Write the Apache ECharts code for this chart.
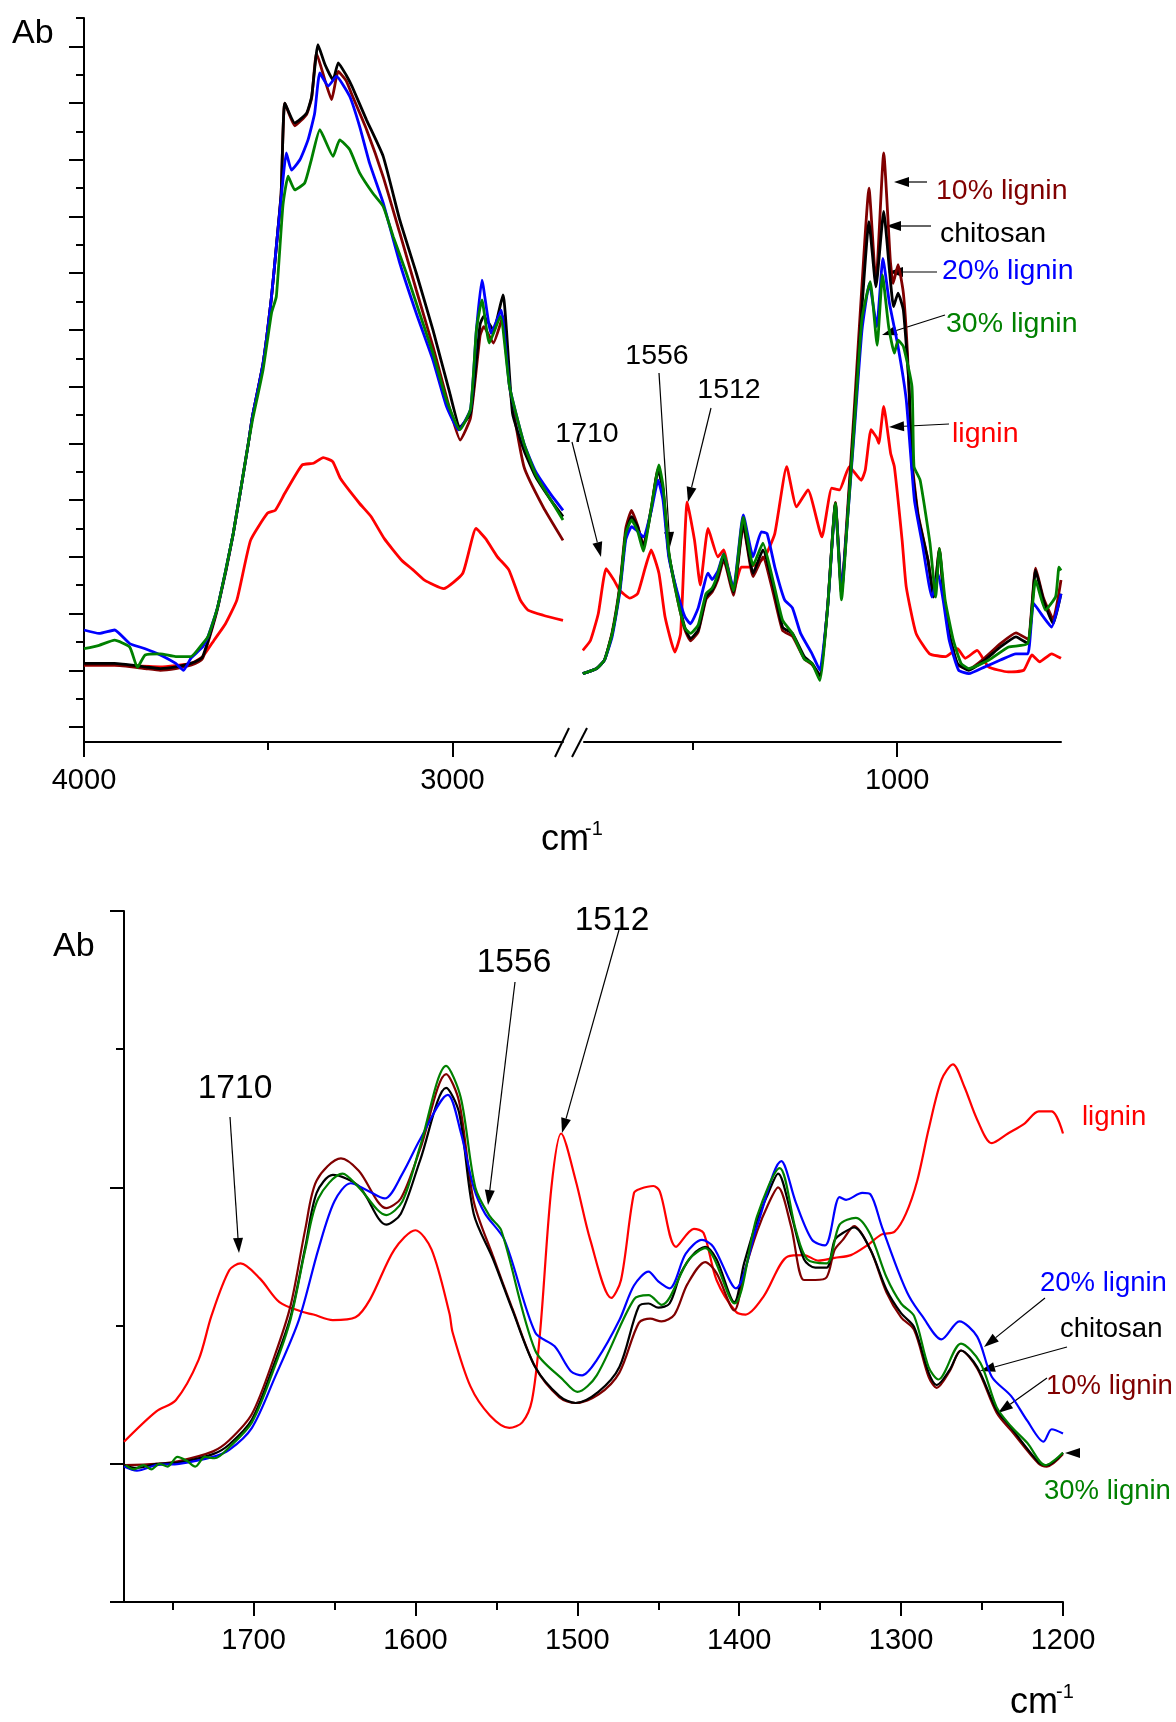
<!DOCTYPE html>
<html>
<head>
<meta charset="utf-8">
<script src="https://cdn.jsdelivr.net/npm/echarts@6/dist/echarts.min.js"></script>
<style>
  html, body { margin: 0; padding: 0; background: #fff; }
  #chart { width: 1176px; height: 1722px; }
</style>
</head>
<body>
<div id="chart"></div>
<script>
// ---- top panel, 4000-2700 cm-1 segment ([wavenumber, absorbance in tick units]) ----
var chitosanHigh = [[4000,1.12],[3917,1.12],[3834,1.06],[3793,1.03],[3751,1.06],[3710,1.12],[3689,1.18],[3678,1.24],[3663,1.53],[3637,2.12],[3595,3.41],[3554,5.0],[3543,5.47],[3514,6.41],[3491,7.59],[3478,8.47],[3465,9.4],[3455,11.0],[3428,10.65],[3396,10.82],[3382,11.12],[3365,12.03],[3346,11.68],[3324,11.41],[3310,11.71],[3289,11.5],[3273,11.3],[3233,10.7],[3188,10.06],[3143,8.94],[3098,8.0],[3053,7.0],[3007,5.88],[2980,5.29],[2951,5.53],[2925,7.1],[2915,7.24],[2889,7.0],[2863,7.62],[2837,5.53],[2806,4.88],[2774,4.41],[2733,4.0],[2700,3.71]];
var lig10High = [[4000,1.09],[3917,1.09],[3834,1.03],[3793,1.0],[3751,1.03],[3710,1.09],[3689,1.15],[3678,1.21],[3663,1.5],[3637,2.1],[3595,3.4],[3554,5.0],[3543,5.47],[3514,6.41],[3491,7.59],[3478,8.47],[3465,9.4],[3455,11.0],[3428,10.6],[3396,10.8],[3382,11.1],[3369,11.88],[3346,11.4],[3328,11.06],[3310,11.56],[3289,11.4],[3273,11.15],[3233,10.53],[3188,9.7],[3143,8.71],[3098,7.7],[3053,6.71],[3007,5.6],[2979,5.06],[2951,5.45],[2925,6.9],[2915,7.06],[2889,6.77],[2863,7.24],[2845,6.0],[2806,4.59],[2754,3.88],[2700,3.29]];
var lig20High = [[4000,1.71],[3959,1.65],[3917,1.71],[3876,1.47],[3834,1.38],[3793,1.27],[3751,1.12],[3730,1.0],[3710,1.21],[3678,1.41],[3663,1.6],[3637,2.12],[3595,3.41],[3554,5.0],[3543,5.47],[3514,6.41],[3491,7.59],[3478,8.47],[3460,9.65],[3451,10.12],[3437,9.82],[3414,10.0],[3392,10.35],[3374,10.82],[3360,11.53],[3337,11.3],[3315,11.47],[3279,11.12],[3252,10.59],[3225,9.94],[3188,9.24],[3143,8.18],[3098,7.29],[3053,6.47],[3016,5.65],[2983,5.24],[2951,5.6],[2935,7.0],[2920,7.88],[2895,6.94],[2868,7.35],[2845,6.0],[2806,5.0],[2774,4.5],[2733,4.1],[2700,3.82]];
var lig30High = [[4000,1.38],[3959,1.44],[3917,1.53],[3876,1.41],[3855,1.05],[3834,1.27],[3793,1.29],[3751,1.24],[3710,1.24],[3678,1.47],[3663,1.6],[3637,2.12],[3595,3.41],[3554,5.0],[3543,5.4],[3514,6.3],[3491,7.3],[3478,7.59],[3460,9.2],[3446,9.71],[3428,9.47],[3401,9.59],[3383,10.0],[3360,10.53],[3324,10.06],[3306,10.35],[3279,10.18],[3252,9.77],[3216,9.41],[3188,9.18],[3161,8.65],[3125,8.0],[3089,7.29],[3053,6.59],[3016,5.76],[2980,5.24],[2951,5.6],[2935,7.0],[2920,7.53],[2900,6.77],[2870,7.24],[2845,6.0],[2806,5.0],[2774,4.45],[2733,4.0],[2700,3.65]];
var ligninHigh = [[4000,1.09],[3917,1.09],[3793,1.06],[3710,1.12],[3678,1.24],[3647,1.53],[3616,1.82],[3585,2.24],[3548,3.29],[3502,3.77],[3481,3.82],[3455,4.12],[3408,4.62],[3377,4.65],[3351,4.75],[3325,4.68],[3304,4.38],[3252,3.94],[3221,3.71],[3185,3.32],[3138,2.94],[3107,2.77],[3076,2.59],[3024,2.44],[2972,2.71],[2936,3.5],[2910,3.32],[2878,3.0],[2847,2.77],[2816,2.24],[2795,2.06],[2754,1.97],[2700,1.88]];

// ---- top panel, 1765-600 cm-1 segment ----
var chitosanLow = [[1768,0.94],[1734,1.03],[1715,1.18],[1696,1.65],[1677,2.47],[1663,3.41],[1649,3.71],[1634,3.53],[1620,3.18],[1601,3.82],[1584,4.53],[1572,4.18],[1558,3.06],[1538,2.35],[1519,1.76],[1505,1.56],[1486,1.71],[1467,2.29],[1452,2.41],[1438,2.65],[1424,3.0],[1400,2.38],[1376,3.59],[1352,2.71],[1328,3.12],[1304,2.53],[1280,1.76],[1256,1.65],[1227,1.24],[1208,1.12],[1189,0.91],[1170,2.12],[1151,3.94],[1136,2.35],[1122,3.65],[1105,5.41],[1086,7.41],[1069,8.91],[1052,7.76],[1033,9.09],[1019,8.06],[1009,7.41],[998,7.65],[985,7.35],[971,6.0],[964,4.59],[949,3.71],[925,2.94],[911,2.29],[897,3.12],[887,2.35],[873,1.65],[853,1.12],[825,1.0],[786,1.18],[748,1.41],[710,1.59],[681,1.47],[662,2.76],[643,2.24],[619,1.82],[600,2.35]];
var lig10Low = [[1768,0.94],[1734,1.03],[1715,1.18],[1696,1.68],[1677,2.52],[1663,3.5],[1649,3.82],[1634,3.55],[1620,3.2],[1601,3.85],[1584,4.56],[1572,4.2],[1558,3.06],[1538,2.3],[1519,1.72],[1505,1.52],[1486,1.68],[1467,2.25],[1452,2.38],[1438,2.6],[1424,2.95],[1400,2.32],[1376,3.55],[1352,2.65],[1328,3.0],[1304,2.4],[1280,1.7],[1256,1.6],[1227,1.2],[1208,1.1],[1189,0.9],[1170,2.12],[1151,3.96],[1136,2.4],[1122,3.75],[1105,5.6],[1086,7.8],[1069,9.5],[1052,7.82],[1033,10.12],[1017,8.24],[1010,7.82],[998,8.15],[985,7.65],[975,6.59],[964,4.7],[949,3.75],[925,2.95],[911,2.3],[897,3.15],[887,2.35],[873,1.62],[853,1.1],[825,1.02],[786,1.22],[748,1.47],[710,1.66],[681,1.55],[662,2.8],[643,2.28],[619,1.9],[600,2.59]];
var lig20Low = [[1768,0.94],[1734,1.03],[1715,1.18],[1696,1.6],[1677,2.4],[1663,3.3],[1649,3.53],[1634,3.45],[1620,3.35],[1601,3.8],[1584,4.35],[1572,4.0],[1558,3.0],[1538,2.4],[1519,1.95],[1505,1.82],[1486,2.1],[1462,2.71],[1452,2.6],[1438,2.75],[1424,3.05],[1400,2.45],[1376,3.74],[1352,3.0],[1332,3.44],[1318,3.41],[1299,2.82],[1275,2.24],[1256,2.1],[1236,1.65],[1208,1.29],[1189,1.0],[1170,2.1],[1151,3.9],[1136,2.4],[1122,3.6],[1105,5.2],[1086,7.0],[1068,7.82],[1050,7.06],[1035,8.26],[1019,7.47],[998,6.71],[978,5.77],[958,4.0],[939,3.24],[915,2.29],[900,2.7],[887,2.2],[873,1.53],[850,1.0],[825,0.94],[786,1.06],[748,1.18],[710,1.29],[681,1.29],[667,2.18],[643,1.94],[623,1.76],[600,2.35]];
var lig30Low = [[1768,0.94],[1734,1.03],[1715,1.18],[1696,1.65],[1677,2.47],[1663,3.41],[1649,3.65],[1634,3.45],[1620,3.1],[1601,3.85],[1582,4.62],[1572,4.25],[1558,3.1],[1538,2.3],[1519,1.75],[1505,1.65],[1486,1.8],[1467,2.35],[1452,2.45],[1438,2.7],[1424,3.05],[1400,2.4],[1376,3.7],[1352,2.85],[1328,3.24],[1304,2.6],[1280,1.88],[1256,1.65],[1227,1.2],[1208,1.12],[1189,0.82],[1170,2.1],[1151,3.94],[1136,2.24],[1122,3.6],[1105,5.3],[1086,7.2],[1066,7.85],[1049,6.73],[1036,7.97],[1021,7.06],[1007,6.59],[998,6.82],[985,6.71],[964,6.0],[959,4.59],[944,4.35],[920,3.24],[906,2.29],[897,3.15],[883,2.24],[863,1.53],[844,1.12],[825,1.03],[776,1.18],[728,1.41],[681,1.47],[662,2.59],[638,2.06],[613,2.3],[605,2.82],[600,2.76]];
var ligninLow = [[1768,1.35],[1749,1.53],[1730,2.0],[1711,2.79],[1692,2.59],[1678,2.41],[1653,2.27],[1634,2.35],[1615,2.82],[1601,3.12],[1582,2.71],[1567,1.94],[1543,1.32],[1529,1.65],[1513,3.97],[1495,3.29],[1481,2.5],[1462,3.5],[1438,3.0],[1424,3.12],[1400,2.38],[1381,2.82],[1361,2.82],[1342,2.88],[1323,3.0],[1299,3.41],[1270,4.59],[1246,3.88],[1218,4.18],[1184,3.35],[1160,4.21],[1141,4.18],[1117,4.59],[1088,4.35],[1078,4.53],[1064,5.24],[1050,5.1],[1045,5.0],[1033,5.65],[1016,4.82],[1007,4.59],[988,3.29],[978,2.47],[954,1.65],[921,1.29],[882,1.24],[853,1.38],[834,1.21],[805,1.35],[777,1.06],[729,0.97],[691,1.0],[671,1.27],[652,1.15],[623,1.29],[600,1.21]];

// ---- bottom panel, 1780-1200 cm-1 ----
var chitosanZoom = [[1780,0.99],[1772,0.97],[1760,1.0],[1746,1.01],[1725,1.07],[1715,1.14],[1701,1.32],[1687,1.73],[1677,2.07],[1668,2.57],[1661,2.96],[1651,3.09],[1635,3.01],[1618,2.73],[1609,2.81],[1597,3.2],[1581,3.72],[1573,3.54],[1564,2.81],[1552,2.48],[1540,2.11],[1526,1.7],[1511,1.49],[1501,1.44],[1487,1.52],[1474,1.7],[1462,2.14],[1456,2.16],[1450,2.13],[1443,2.16],[1436,2.38],[1428,2.52],[1421,2.57],[1414,2.48],[1403,2.17],[1397,2.45],[1389,2.76],[1382,2.96],[1376,3.1],[1368,2.81],[1360,2.48],[1353,2.42],[1346,2.42],[1341,2.62],[1336,2.67],[1329,2.71],[1319,2.55],[1309,2.26],[1300,2.09],[1292,1.99],[1283,1.66],[1278,1.57],[1270,1.68],[1263,1.82],[1253,1.7],[1241,1.39],[1232,1.26],[1215,1.01],[1210,0.99],[1200,1.08]];
var lig10Zoom = [[1780,0.99],[1760,1.0],[1746,1.02],[1725,1.09],[1715,1.17],[1701,1.36],[1687,1.78],[1677,2.15],[1668,2.7],[1661,3.05],[1646,3.21],[1635,3.12],[1618,2.85],[1609,2.92],[1597,3.28],[1581,3.82],[1573,3.62],[1564,2.9],[1552,2.5],[1540,2.12],[1526,1.7],[1511,1.48],[1501,1.44],[1487,1.5],[1474,1.66],[1462,2.02],[1455,2.05],[1448,2.03],[1440,2.08],[1432,2.3],[1421,2.46],[1414,2.38],[1403,2.11],[1397,2.38],[1389,2.68],[1382,2.88],[1376,3.0],[1368,2.72],[1360,2.33],[1353,2.33],[1346,2.35],[1341,2.55],[1336,2.62],[1329,2.72],[1319,2.55],[1309,2.24],[1300,2.06],[1292,1.97],[1283,1.63],[1278,1.55],[1270,1.67],[1263,1.82],[1253,1.69],[1241,1.37],[1232,1.24],[1215,1.0],[1210,0.98],[1200,1.07]];
var lig20Zoom = [[1780,0.98],[1772,0.95],[1760,0.99],[1746,1.0],[1725,1.05],[1715,1.1],[1701,1.26],[1687,1.62],[1672,2.04],[1660,2.55],[1650,2.9],[1640,3.03],[1630,2.98],[1619,2.92],[1608,3.1],[1597,3.35],[1580,3.67],[1572,3.4],[1564,3.0],[1557,2.81],[1545,2.62],[1526,1.95],[1514,1.85],[1504,1.67],[1497,1.64],[1488,1.75],[1474,2.04],[1465,2.29],[1456,2.39],[1450,2.32],[1443,2.27],[1433,2.52],[1423,2.62],[1416,2.57],[1402,2.27],[1389,2.72],[1374,3.19],[1365,2.89],[1355,2.62],[1347,2.58],[1338,2.93],[1334,2.91],[1324,2.96],[1319,2.95],[1312,2.72],[1302,2.4],[1295,2.21],[1287,2.07],[1275,1.9],[1264,2.03],[1253,1.92],[1244,1.63],[1232,1.49],[1222,1.31],[1212,1.16],[1207,1.25],[1200,1.22]];
var lig30Zoom = [[1779,0.99],[1774,0.96],[1768,0.99],[1763,0.96],[1758,1.0],[1753,0.98],[1747,1.05],[1741,1.02],[1736,0.98],[1730,1.05],[1724,1.04],[1715,1.12],[1701,1.3],[1687,1.7],[1677,2.05],[1668,2.55],[1660,2.92],[1645,3.1],[1635,3.0],[1618,2.8],[1608,2.9],[1597,3.3],[1581,3.88],[1572,3.65],[1563,3.0],[1554,2.79],[1547,2.69],[1526,1.82],[1509,1.61],[1500,1.52],[1488,1.64],[1465,2.19],[1456,2.22],[1448,2.15],[1431,2.48],[1421,2.56],[1403,2.16],[1389,2.79],[1375,3.14],[1365,2.69],[1358,2.48],[1346,2.45],[1338,2.73],[1328,2.78],[1319,2.66],[1309,2.35],[1300,2.16],[1292,2.07],[1283,1.7],[1277,1.61],[1263,1.87],[1251,1.73],[1241,1.41],[1232,1.27],[1222,1.15],[1211,0.99],[1200,1.08]];
var ligninZoom = [[1780,1.16],[1760,1.38],[1748,1.46],[1734,1.75],[1726,2.07],[1715,2.4],[1708,2.45],[1696,2.34],[1684,2.17],[1670,2.1],[1663,2.08],[1651,2.04],[1637,2.06],[1628,2.19],[1613,2.55],[1600,2.69],[1590,2.55],[1579,2.09],[1577,1.95],[1566,1.56],[1554,1.35],[1542,1.26],[1534,1.3],[1528,1.46],[1523,1.95],[1516,3.0],[1510,3.39],[1501,3.05],[1492,2.62],[1479,2.2],[1473,2.33],[1465,2.96],[1461,2.99],[1453,3.01],[1449,2.97],[1439,2.57],[1428,2.7],[1422,2.67],[1414,2.33],[1402,2.1],[1396,2.08],[1385,2.21],[1370,2.5],[1360,2.51],[1351,2.47],[1341,2.49],[1331,2.51],[1321,2.58],[1312,2.66],[1304,2.68],[1297,2.81],[1290,3.05],[1283,3.42],[1275,3.78],[1268,3.89],[1261,3.73],[1253,3.49],[1244,3.32],[1234,3.39],[1224,3.46],[1215,3.55],[1207,3.55],[1200,3.39]];

// tick positions
var topYMajor = [0,1,2,3,4,5,6,7,8,9,10,11,12];
var topYMinor = [0.5,1.5,2.5,3.5,4.5,5.5,6.5,7.5,8.5,9.5,10.5,11.5,12.5];
var topLeftMajor = [3000, 4000], topLeftMinor = [3500];
var topRightMajor = [1000], topRightMinor = [1500];
var botXMajor = [1200,1300,1400,1500,1600,1700];
var botXMinor = [1250,1350,1450,1550,1650,1750];
var botYMajor = [0,1,3,5], botYMinor = [2,4];

var FONT = '"Liberation Sans", Arial, Helvetica, sans-serif';
var C = { chitosan: '#000000', l10: '#800000', l20: '#0000ff', l30: '#008000', lignin: '#ff0000' };

var chart = echarts.init(document.getElementById('chart'));

function xAx(grid, min, max, ticks, len, labels, withLine) {
  return {
    type: 'value', gridIndex: grid, min: min, max: max, inverse: true, position: 'bottom', offset: 0,
    axisLine: { show: withLine, onZero: false, lineStyle: { color: '#000', width: 2 } },
    axisTick: { show: true, length: len, customValues: ticks, lineStyle: { color: '#000', width: 2 } },
    axisLabel: labels ? { show: true, customValues: labels, margin: 24, color: '#000', fontSize: 29, fontFamily: FONT,
      formatter: function (v) { return String(v); } } : { show: false },
    splitLine: { show: false }
  };
}
function yAx(grid, min, max, ticks, len, withLine) {
  return {
    type: 'value', gridIndex: grid, min: min, max: max, position: 'left', offset: 0,
    axisLine: { show: withLine, onZero: false, lineStyle: { color: '#000', width: 2 } },
    axisTick: { show: true, length: len, customValues: ticks, lineStyle: { color: '#000', width: 2 } },
    axisLabel: { show: false }, splitLine: { show: false }
  };
}
function ser(name, data, color, xi, yi, w, smooth) {
  return { name: name, type: 'line', data: data, xAxisIndex: xi, yAxisIndex: yi, showSymbol: false,
    smooth: smooth, lineStyle: { color: color, width: w }, itemStyle: { color: color }, silent: true };
}
function txt(s, x, y, size, color, align) {
  return { type: 'text', x: x, y: y, silent: true,
    style: { text: s, fontSize: size, fontFamily: FONT, fill: color, align: align || 'left', textAlign: align || 'left', verticalAlign: 'middle', textVerticalAlign: 'middle' } };
}
function arrow(x1, y1, x2, y2, head, half) {
  var dx = x2 - x1, dy = y2 - y1, L = Math.sqrt(dx * dx + dy * dy);
  var ux = dx / L, uy = dy / L, bx = x2 - ux * head, by = y2 - uy * head;
  return [
    { type: 'line', silent: true, shape: { x1: x1, y1: y1, x2: bx, y2: by }, style: { stroke: '#000', lineWidth: 1.2 } },
    { type: 'polygon', silent: true, shape: { points: [[x2, y2], [bx - uy * half, by + ux * half], [bx + uy * half, by - ux * half]] }, style: { fill: '#000' } }
  ];
}

var TW = 2.8, BW = 2.2;
var order = [
  ['lignin', ligninHigh, ligninLow, ligninZoom, C.lignin],
  ['10% lignin', lig10High, lig10Low, lig10Zoom, C.l10],
  ['chitosan', chitosanHigh, chitosanLow, chitosanZoom, C.chitosan],
  ['20% lignin', lig20High, lig20Low, lig20Zoom, C.l20],
  ['30% lignin', lig30High, lig30Low, lig30Zoom, C.l30]
];
var series = [];
order.forEach(function (o) {
  series.push(ser(o[0], o[1], o[4], 0, 0, TW, 0.15));
  series.push(ser(o[0], o[2], o[4], 2, 2, TW, 0.15));
  series.push(ser(o[0], o[3], o[4], 4, 4, BW, 0.3));
});

var graphics = [
  txt('Ab', 12, 34, 34, '#000'),
  txt('cm', 541, 840, 36, '#000'),
  txt('-1', 585, 829, 20, '#000'),
  txt('10% lignin', 936, 191, 28.5, C.l10),
  txt('chitosan', 940, 234, 28.5, C.chitosan),
  txt('20% lignin', 942, 271, 28.5, C.l20),
  txt('30% lignin', 946, 324, 28.5, C.l30),
  txt('lignin', 952, 434, 28.5, C.lignin),
  txt('1556', 657, 356, 28.5, '#000', 'center'),
  txt('1512', 729, 390, 28.5, '#000', 'center'),
  txt('1710', 587, 434, 28.5, '#000', 'center'),
  { type: 'line', silent: true, shape: { x1: 555, y1: 757, x2: 569, y2: 728 }, style: { stroke: '#000', lineWidth: 2 } },
  { type: 'line', silent: true, shape: { x1: 572, y1: 757, x2: 587, y2: 728 }, style: { stroke: '#000', lineWidth: 2 } },

  txt('Ab', 53, 947, 34, '#000'),
  txt('1710', 235, 1089, 33.5, '#000', 'center'),
  txt('1556', 514, 963, 33.5, '#000', 'center'),
  txt('1512', 612, 921, 33.5, '#000', 'center'),
  txt('lignin', 1082, 1117, 27.5, C.lignin),
  txt('20% lignin', 1040, 1283, 27.5, C.l20),
  txt('chitosan', 1060, 1329, 27.5, C.chitosan),
  txt('10% lignin', 1046, 1386, 27.5, C.l10),
  txt('30% lignin', 1044, 1491, 27.5, C.l30),
  txt('cm', 1010, 1703, 36, '#000'),
  txt('-1', 1056, 1692, 20, '#000')
];
[
  [927, 182, 894, 182], [931, 226, 886, 226], [937, 272, 888, 272], [945, 315, 882, 335], [949, 424, 889, 427],
  [572, 442, 601, 557], [659, 373, 670, 547], [711, 408, 688, 502],
  [230, 1117, 239, 1253], [515, 982, 488, 1205], [619, 930, 562, 1133],
  [1045, 1298, 984, 1347], [1067, 1347, 980, 1371], [1047, 1378, 998, 1413], [1079, 1453, 1065, 1453]
].forEach(function (a) { graphics = graphics.concat(arrow(a[0], a[1], a[2], a[3], 15, 5)); });

chart.setOption({
  animation: false,
  backgroundColor: '#fff',
  grid: [
    { left: 84, top: 18, width: 479, height: 724 },
    { left: 584, top: 18, width: 477, height: 724 },
    { left: 124, top: 911, width: 939, height: 691 }
  ],
  xAxis: [
    xAx(0, 2700, 4000, topLeftMajor, 15, topLeftMajor, true),
    xAx(0, 2700, 4000, topLeftMinor, 8, null, false),
    xAx(1, 600, 1765, topRightMajor, 15, topRightMajor, true),
    xAx(1, 600, 1765, topRightMinor, 8, null, false),
    xAx(2, 1200, 1780, botXMajor, 14, botXMajor, true),
    xAx(2, 1200, 1780, botXMinor, 8, null, false)
  ],
  yAxis: [
    yAx(0, -0.265, 12.5, topYMajor, 15, true),
    yAx(0, -0.265, 12.5, topYMinor, 8, false),
    { type: 'value', gridIndex: 1, min: -0.265, max: 12.5, show: false },
    { type: 'value', gridIndex: 1, min: -0.265, max: 12.5, show: false },
    yAx(2, 0, 5, botYMajor, 14, true),
    yAx(2, 0, 5, botYMinor, 8, false)
  ],
  series: series,
  graphic: graphics
});
</script>
</body>
</html>
